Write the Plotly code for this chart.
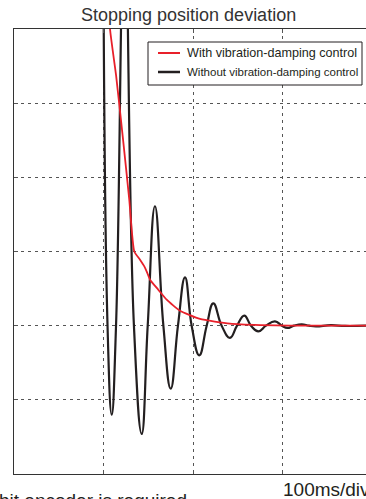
import plotly.graph_objects as go

# Time axis in ms (100 ms per division), deviation in divisions
t_without = [99.4, 104.5, 109.2, 114.0, 123.5, 134.0, 142.7, 149.4, 157.5, 166.9,
             175.1, 183.2, 191.1, 198.5, 207.0, 215.3, 222.7, 232.0, 241.3, 249.2,
             257.3, 264.8, 273.0, 281.6, 291.6, 299.4, 305.4, 312.8, 321.5, 329.6,
             337.4, 354.2, 370.0, 393.3]
y_without = [6.4, 0.0, -1.20, 0.0, 5.5, 0.0, -1.46, 0.0, 1.61, 0.0,
             -0.85, 0.0, 0.65, 0.0, -0.40, 0.0, 0.30, 0.0, -0.165, 0.0,
             0.135, 0.0, -0.077, 0.0, 0.058, 0.0, -0.031, 0.0, 0.018, 0.0,
             -0.010, 0.006, -0.004, 0.0]

t_with = [105.6, 107.3, 114.0, 121.5, 128.8, 134.4, 140.8, 145.6, 148.3, 152.0,
          161.2, 170.6, 185.5, 207.8, 241.3, 274.9, 308.4, 393.3]
y_with = [4.66, 4.00, 3.38, 2.55, 1.70, 1.00, 0.89, 0.80, 0.73, 0.62,
          0.485, 0.35, 0.20, 0.09, 0.027, 0.007, 0.0, 0.0]

series_names = ["With vibration-damping control", "Without vibration-damping control"]
series_colors = ["#e8202a", "#231f20"]
title_text = "Stopping position deviation"
scale_text = "100ms/div"
note_text = "bit encoder is required"

W, H = 366, 499
ML, MR, MT, MB = 14, 0, 29, 25
PW, PH = W - ML - MR, H - MT - MB
FONT = "Liberation Sans, Arial, sans-serif"


def px_x(px):
    return (px - ML) / PW


def px_y(py):
    return (H - MB - py) / PH


fig = go.Figure()
fig.add_trace(go.Scatter(x=t_without, y=y_without, mode="lines",
                         line=dict(color=series_colors[1], width=2.2, shape="spline", smoothing=1.3),
                         name=series_names[1], showlegend=False))
fig.add_trace(go.Scatter(x=t_with, y=y_with, mode="lines",
                         line=dict(color=series_colors[0], width=1.8, shape="spline", smoothing=0.5),
                         name=series_names[0], showlegend=False))

axis_common = dict(showgrid=True, gridcolor="#555555", griddash="3px,4px", gridwidth=1,
                   zeroline=False, showline=True, linecolor="#333333", linewidth=1.2,
                   ticks="inside", ticklen=4, tickcolor="#555555", showticklabels=False)

fig.update_layout(
    width=W, height=H,
    margin=dict(l=ML, r=MR, t=MT, b=MB),
    paper_bgcolor="white", plot_bgcolor="white",
    xaxis=dict(range=[0, 393.3], dtick=100, tick0=0, mirror="ticks", **axis_common),
    yaxis=dict(range=[-2, 4], dtick=1, tick0=0, mirror=False, **axis_common),
    showlegend=False,
)

# Legend box drawn in paper space
fig.add_shape(type="rect", xref="paper", yref="paper",
              x0=px_x(148), x1=px_x(362), y0=px_y(85), y1=px_y(42),
              line=dict(color="#231f20", width=1), fillcolor="white", layer="above")
for i, py in enumerate([53, 72]):
    fig.add_shape(type="line", xref="paper", yref="paper",
                  x0=px_x(158), x1=px_x(180), y0=px_y(py), y1=px_y(py),
                  line=dict(color=series_colors[i], width=2 if i == 0 else 2.5), layer="above")
    fig.add_annotation(xref="paper", yref="paper", x=px_x(185), y=px_y(py),
                       xanchor="left", yanchor="middle", showarrow=False,
                       text=series_names[i],
                       font=dict(family=FONT, size=12.6 if i == 0 else 11.5, color="#231f20"))

fig.add_annotation(xref="paper", yref="paper", x=px_x(188), y=px_y(15),
                   xanchor="center", yanchor="middle", showarrow=False, text=title_text,
                   font=dict(family=FONT, size=18, color="#333333"))
fig.add_annotation(xref="paper", yref="paper", x=px_x(281), y=px_y(489),
                   xanchor="left", yanchor="middle", showarrow=False, text=scale_text,
                   font=dict(family=FONT, size=19, color="#231f20"))
fig.add_annotation(xref="paper", yref="paper", x=px_x(189), y=px_y(500),
                   xanchor="right", yanchor="middle", showarrow=False, text=note_text,
                   font=dict(family=FONT, size=19, color="#231f20"))

fig.write_html("out.html")
